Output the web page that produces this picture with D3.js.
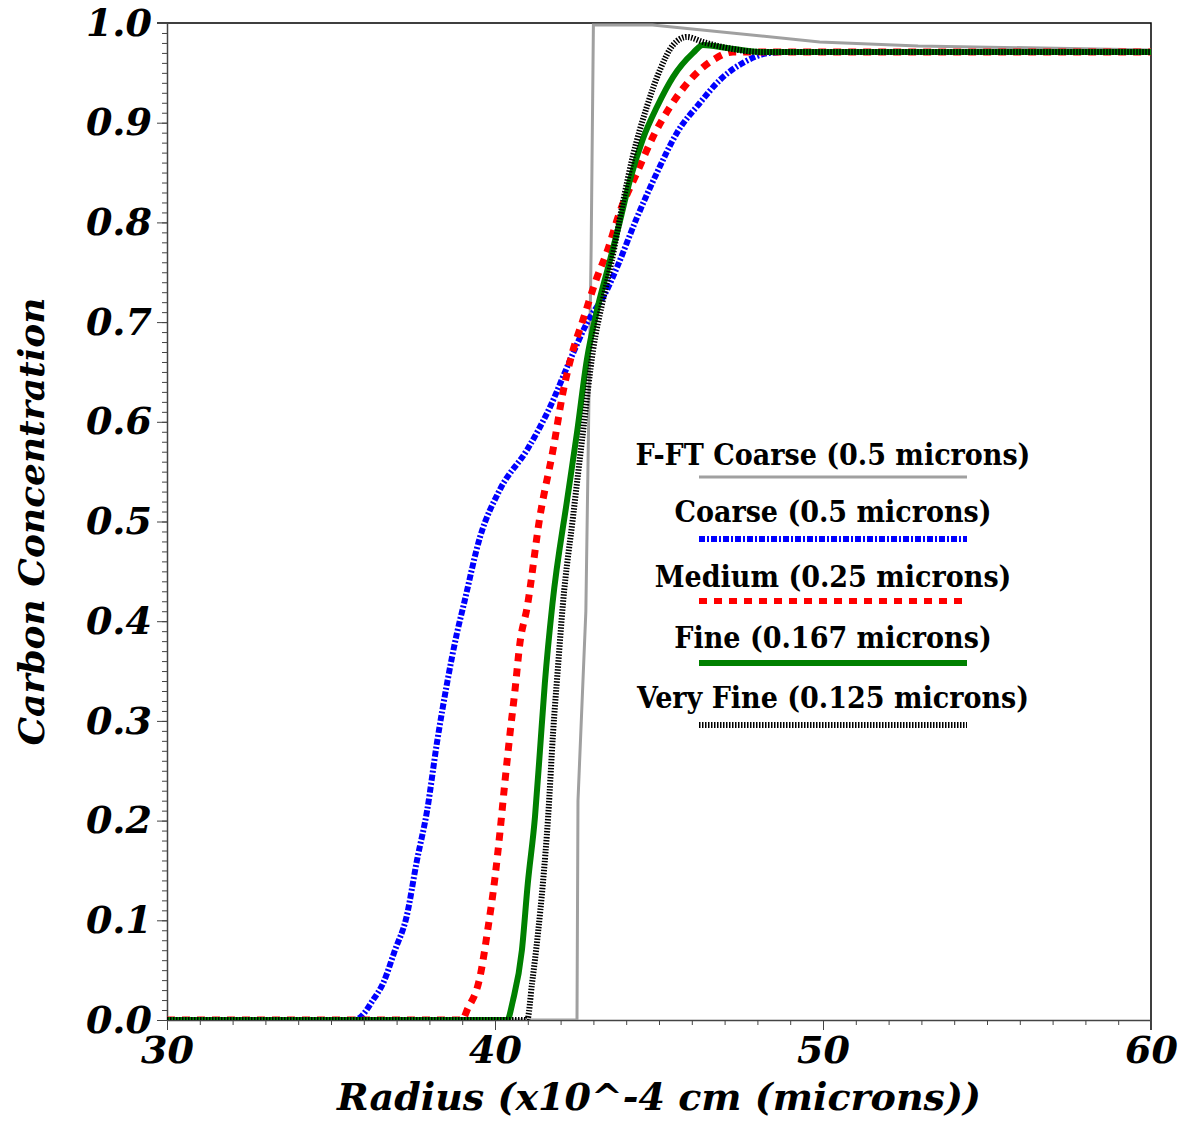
<!DOCTYPE html>
<html>
<head>
<meta charset="utf-8">
<script src="https://cdn.jsdelivr.net/npm/d3@7"></script>
<style>
  body { margin: 0; background: #fff; }
  .tick-label { font-family: "DejaVu Serif", serif; font-weight: bold; font-style: italic; font-size: 38px; fill: #000; }
  .axis-title { font-family: "DejaVu Serif", serif; font-weight: bold; font-style: italic; font-size: 38px; fill: #000; }
  .legend-text { font-family: "DejaVu Serif", serif; font-stretch: condensed; font-weight: bold; font-size: 30px; fill: #000; }
</style>
</head>
<body>
<svg id="chart" width="1183" height="1122"></svg>
<script>
const WIDTH = 1183
const HEIGHT = 1122

// series as [radius, concentration]
const fftCoarse = [[30, 0], [42.5, 0], [42.53, 0.22], [42.77, 0.41], [42.93, 0.77], [43.0, 0.998],
    [44.8, 0.998], [49.9, 0.981], [52.9, 0.977], [60, 0.973]];

const coarse = [[30, 0], [35.7, 0], [35.9, 0.003], [36.28, 0.02], [36.59, 0.037], [36.95, 0.07], [37.3, 0.103],
    [37.62, 0.16], [37.93, 0.21], [38.23, 0.278], [38.54, 0.338], [38.84, 0.388], [39.05, 0.417], [39.54, 0.484],
    [40.15, 0.532], [40.98, 0.572], [41.68, 0.615], [42.29, 0.662], [42.8, 0.699], [43.41, 0.732], [43.72, 0.755],
    [44.33, 0.805], [44.94, 0.85], [45.55, 0.89], [46.25, 0.92], [46.86, 0.943], [47.56, 0.96], [48.38, 0.97],
    [49, 0.971], [60, 0.971]];

const medium = [[30, 0], [39.0, 0], [39.15, 0.01], [39.54, 0.043], [39.79, 0.093], [40.0, 0.143], [40.15, 0.188],
    [40.3, 0.238], [40.46, 0.288], [40.61, 0.331], [40.76, 0.378], [40.98, 0.414], [41.37, 0.505], [41.77, 0.572],
    [42.07, 0.629], [42.38, 0.672], [42.68, 0.702], [43.11, 0.745], [43.41, 0.77], [43.8, 0.81], [44.33, 0.85],
    [44.82, 0.886], [45.34, 0.916], [45.95, 0.943], [46.65, 0.963], [47.26, 0.971], [48, 0.971], [60, 0.971]];

const fine = [[30, 0], [40.37, 0], [40.55, 0.02], [40.82, 0.07], [41.0, 0.137], [41.22, 0.204], [41.37, 0.27],
    [41.52, 0.338], [41.75, 0.417], [42.2, 0.522], [42.5, 0.589], [42.8, 0.662], [43.11, 0.712], [43.45, 0.755],
    [43.8, 0.8], [44.12, 0.843], [44.5, 0.883], [44.94, 0.916], [45.43, 0.946], [46.04, 0.97], [46.34, 0.978],
    [47.07, 0.975], [48.08, 0.971], [60, 0.971]];

const veryFine = [[30, 0], [40.98, 0], [41.13, 0.037], [41.31, 0.087], [41.46, 0.137], [41.62, 0.204], [41.77, 0.288],
    [41.92, 0.354], [42.07, 0.417], [42.38, 0.505], [42.68, 0.589], [42.99, 0.672], [43.29, 0.722], [43.55, 0.76],
    [43.9, 0.82], [44.2, 0.866], [44.63, 0.916], [45.03, 0.953], [45.43, 0.978], [45.85, 0.986], [46.34, 0.981],
    [47.07, 0.975], [48.08, 0.971], [60, 0.971]];

const seriesNames = ['F-FT Coarse (0.5 microns)', 'Coarse (0.5 microns)', 'Medium (0.25 microns)',
    'Fine (0.167 microns)', 'Very Fine (0.125 microns)'];

const xTicks = [30, 40, 50, 60];
const yTicks = [0, 0.1, 0.2, 0.3, 0.4, 0.5, 0.6, 0.7, 0.8, 0.9, 1.0];

const styles = [
    { color: '#a0a0a0', width: 3, dash: null, curve: d3.curveLinear },
    { color: '#0000ff', width: 6, dash: '6,2,2,2', curve: d3.curveMonotoneX },
    { color: '#ff0000', width: 7, dash: '8,7', curve: d3.curveMonotoneX },
    { color: '#008000', width: 6, dash: null, curve: d3.curveMonotoneX },
    { color: '#000000', width: 6, dash: '1.5,1.5', curve: d3.curveMonotoneX }
];

const padding = { left: 167, right: 32, top: 23, bottom: 102 };
const svg = d3.select('#chart');

svg.append('rect').attr('width', WIDTH).attr('height', HEIGHT).attr('fill', '#fff');

const xAxis = d3.scaleLinear()
    .domain([30, 60])
    .range([padding.left, WIDTH - padding.right]);

const yAxis = d3.scaleLinear()
    .domain([0, 1])
    .range([HEIGHT - padding.bottom, padding.top]);

svg.append('defs').append('clipPath').attr('id', 'plot-clip')
    .append('rect')
    .attr('x', xAxis(30)).attr('y', yAxis(1))
    .attr('width', xAxis(60) - xAxis(30)).attr('height', yAxis(0) - yAxis(1));

// frame (top and right borders)
svg.append('path')
    .attr('d', `M${xAxis(30) - 10},${yAxis(1)}H${xAxis(60)}V${yAxis(0) + 10}`)
    .attr('fill', 'none')
    .attr('stroke', '#000')
    .attr('stroke-width', 1.5);

// minor ticks
svg.append('g')
    .attr('transform', `translate(0, ${yAxis(0)})`)
    .call(d3.axisBottom(xAxis).tickValues(d3.range(30, 61, 1)).tickSize(5).tickFormat(''))
    .call(g => g.select('.domain').remove())
    .selectAll('line').attr('stroke', '#444');

svg.append('g')
    .attr('transform', `translate(${xAxis(30)}, 0)`)
    .call(d3.axisLeft(yAxis).tickValues(d3.range(0, 101, 1).map(d => d / 100)).tickSize(5).tickFormat(''))
    .call(g => g.select('.domain').remove())
    .selectAll('line').attr('stroke', '#444');

// major ticks + labels
const gx = svg.append('g')
    .attr('transform', `translate(0, ${yAxis(0)})`)
    .call(d3.axisBottom(xAxis).tickValues(xTicks).tickSize(10).tickSizeOuter(0).tickPadding(6).tickFormat(d3.format('d')));
gx.select('.domain').attr('stroke', '#444').attr('stroke-width', 1.5);
gx.selectAll('line').attr('stroke', '#444');
gx.selectAll('text').attr('class', 'tick-label');

const gy = svg.append('g')
    .attr('transform', `translate(${xAxis(30)}, 0)`)
    .call(d3.axisLeft(yAxis).tickValues(yTicks).tickSize(10).tickSizeOuter(0).tickPadding(5).tickFormat(d3.format('.1f')));
gy.select('.domain').attr('stroke', '#444').attr('stroke-width', 1.5);
gy.selectAll('line').attr('stroke', '#444');
gy.selectAll('text').attr('class', 'tick-label');

// curves
const allSeries = [fftCoarse, coarse, medium, fine, veryFine];
svg.append('g')
    .attr('clip-path', 'url(#plot-clip)')
    .selectAll('path')
    .data(allSeries)
    .join('path')
    .attr('fill', 'none')
    .attr('stroke', (d, i) => styles[i].color)
    .attr('stroke-width', (d, i) => styles[i].width)
    .attr('stroke-dasharray', (d, i) => styles[i].dash)
    .attr('d', (d, i) => d3.line()
        .x(p => xAxis(p[0]))
        .y(p => yAxis(p[1]))
        .curve(styles[i].curve)(d));

// legend
const legend = svg.append('g');
const legendY = [465, 522, 587, 648, 708];
const lineY = [477, 539, 601, 663, 725];
seriesNames.forEach((name, i) => {
    legend.append('text')
        .attr('class', 'legend-text')
        .attr('x', 833)
        .attr('y', legendY[i])
        .attr('text-anchor', 'middle')
        .text(name);
    legend.append('line')
        .attr('x1', 699).attr('x2', 967)
        .attr('y1', lineY[i]).attr('y2', lineY[i])
        .attr('stroke', styles[i].color)
        .attr('stroke-width', Math.min(styles[i].width, 6))
        .attr('stroke-dasharray', styles[i].dash);
});

// axis titles
svg.append('text')
    .attr('class', 'axis-title')
    .attr('x', (xAxis(30) + xAxis(60)) / 2)
    .attr('y', 1110)
    .attr('text-anchor', 'middle')
    .text('Radius (x10^-4 cm (microns))');

svg.append('text')
    .attr('class', 'axis-title')
    .style('font-size', '36px')
    .attr('transform', `translate(44, ${(yAxis(0) + yAxis(1)) / 2}) rotate(-90)`)
    .attr('text-anchor', 'middle')
    .text('Carbon Concentration');
</script>
</body>
</html>
